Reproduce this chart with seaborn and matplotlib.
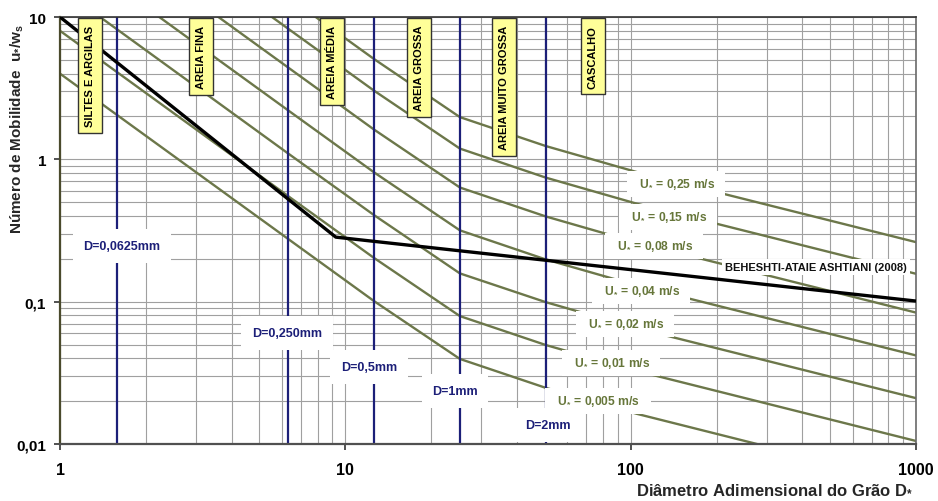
import matplotlib
matplotlib.use("Agg")
import matplotlib.pyplot as plt
import seaborn as sns
import pandas as pd
import numpy as np
from matplotlib.ticker import LogLocator, NullFormatter
from matplotlib import font_manager

# ---------------- data ----------------
dstar_pts = [1, 6.3, 12.6, 25.2, 50.4, 105, 1000]
u_star = [0.25, 0.15, 0.08, 0.04, 0.02, 0.01, 0.005]
u_labels = ["0,25", "0,15", "0,08", "0,04", "0,02", "0,01", "0,005"]
mob_025 = [200, 13.8, 5.07, 1.98, 1.24, 0.814, 0.262]
mob_015 = [120, 8.28, 3.04, 1.19, 0.744, 0.488, 0.157]
mob_008 = [64, 4.42, 1.62, 0.634, 0.397, 0.260, 0.0838]
mob_004 = [32, 2.21, 0.811, 0.317, 0.198, 0.130, 0.0419]
mob_002 = [16, 1.10, 0.406, 0.158, 0.0992, 0.0651, 0.0210]
mob_001 = [8, 0.552, 0.203, 0.0792, 0.0496, 0.0326, 0.0105]
mob_0005 = [4, 0.276, 0.101, 0.0396, 0.0248, 0.0163, 0.00524]
mob_series = [mob_025, mob_015, mob_008, mob_004, mob_002, mob_001, mob_0005]

beh_dstar = [1, 9.26, 1000]
beh_mob = [10, 0.284, 0.101]

grain_d_mm = ["0,0625", "0,250", "0,5", "1", "2"]
grain_dstar = [1.58, 6.3, 12.6, 25.2, 50.4]

classes = ["SILTES E ARGILAS", "AREIA FINA", "AREIA MÉDIA", "AREIA GROSSA",
           "AREIA MUITO GROSSA", "CASCALHO"]

x_ticks = [1, 10, 100, 1000]
x_tick_labels = ["1", "10", "100", "1000"]
y_ticks = [0.01, 0.1, 1, 10]
y_tick_labels = ["0,01", "0,1", "1", "10"]

# ---------------- style ----------------
sns.set_theme(style="white")
plt.rcParams["font.family"] = ["Liberation Sans", "DejaVu Sans"]
plt.rcParams["mathtext.fontset"] = "custom"
plt.rcParams["mathtext.rm"] = "Liberation Sans:bold"
plt.rcParams["mathtext.it"] = "Liberation Sans:bold"
plt.rcParams["mathtext.bf"] = "Liberation Sans:bold"
plt.rcParams["mathtext.default"] = "rm"

installed = {f.name for f in font_manager.fontManager.ttflist}
if "Liberation Sans Narrow" in installed:
    class_font = dict(family=["Liberation Sans Narrow"], fontsize=9.5)
else:
    class_font = dict(family=["Liberation Sans"], fontsize=8)

GREEN = "#6c774a"
GREEN_TXT = "#66763a"
NAVY = "#1c1f78"

W, H = 938, 502
fig = plt.figure(figsize=(W / 100, H / 100), dpi=100)
ax = fig.add_axes([60 / W, (H - 445) / H, 856 / W, 427 / H])

def px(xp, yp):
    """pixel -> axes fraction"""
    return ((xp - 60) / 856, (445 - yp) / 427)

rows = []
for u, m in zip(u_star, mob_series):
    for d, v in zip(dstar_pts, m):
        rows.append({"dstar": d, "mob": v, "u": u})
df = pd.DataFrame(rows)

ax.set_xscale("log")
ax.set_yscale("log")

sns.lineplot(data=df, x="dstar", y="mob", hue="u", units="u", estimator=None,
             palette=[GREEN] * len(u_star), legend=False, lw=1.7, sort=False,
             ax=ax, zorder=2)
sns.lineplot(x=beh_dstar, y=beh_mob, color="black", lw=2.4, estimator=None,
             sort=False, ax=ax, zorder=3)

for d in grain_dstar:
    ax.axvline(d, color=NAVY, lw=1.6, zorder=2.5)

ax.set_xlim(1, 1000)
ax.set_ylim(0.01, 10)

ax.set_xticks(x_ticks)
ax.set_xticklabels(x_tick_labels, fontweight="bold", fontsize=11.5)
ax.set_yticks(y_ticks)
ax.set_yticklabels(y_tick_labels, fontweight="bold", fontsize=11)
for axis in (ax.xaxis, ax.yaxis):
    axis.set_minor_locator(LogLocator(base=10, subs=np.arange(2, 10)))
    axis.set_minor_formatter(NullFormatter())
ax.tick_params(which="major", length=4, width=1.2, color="#333333",
               labelcolor="black", bottom=True, left=True)
ax.tick_params(axis="x", which="major", pad=9)
ax.tick_params(axis="y", which="major", pad=6)
ax.tick_params(which="minor", length=0)
ax.grid(True, which="both", color="#a0a0a0", lw=0.8)
ax.set_axisbelow(True)
ax.set_xlabel("")
ax.set_ylabel("")

for side, col, lw in [("left", "#4a4a2c", 1.6), ("bottom", "#505050", 1.6),
                      ("top", "#333333", 1.2), ("right", "#6a6a6a", 1.2)]:
    ax.spines[side].set_color(col)
    ax.spines[side].set_linewidth(lw)
    ax.spines[side].set_visible(True)

# ---------------- annotations ----------------
u_pos = [(676, 185), (668, 218), (654, 247), (641, 292), (625, 325), (611, 364), (598, 402)]
for lab, (xp, yp) in zip(u_labels, u_pos):
    ax.text(*px(xp, yp), "  U$_{*}$ = " + lab + " m/s  ", transform=ax.transAxes,
            ha="center", va="center", fontsize=8.7, fontweight="bold", color=GREEN_TXT,
            bbox=dict(boxstyle="square,pad=0.5", fc="white", ec="none"), zorder=6)

ax.text(*px(816, 268), "BEHESHTI-ATAIE ASHTIANI (2008)", transform=ax.transAxes,
        ha="center", va="center", fontsize=8, fontweight="bold", color="#111111",
        bbox=dict(boxstyle="square,pad=0.3", fc="white", ec="none"), zorder=6)

d_ypix = [247, 334, 368, 392, 426]
d_xpix = [122, 287, 369, 455, 548]
for lab, xp, yp in zip(grain_d_mm, d_xpix, d_ypix):
    ax.text(*px(xp, yp), "D=" + lab + "mm", transform=ax.transAxes,
            ha="center", va="center", fontsize=9, fontweight="bold", color=NAVY,
            bbox=dict(boxstyle="square,pad=0.85", fc="white", ec="none"), zorder=6)

class_x = [90, 201, 332, 419, 504, 593]
for lab, xp in zip(classes, class_x):
    fx, _ = px(xp, 0)
    ax.annotate(lab, xy=(fx, 1), xycoords="axes fraction", xytext=(0, -5.7),
                textcoords="offset points", rotation=90, ha="center", va="top",
                fontweight="bold", color="black", **class_font,
                bbox=dict(boxstyle="square,pad=0.6", fc="#ffff99", ec="#333333", lw=1),
                zorder=7, annotation_clip=False)

fig.text(913 / W, 1 - 490 / H, "Diâmetro Adimensional do Grão D$_{*}$",
         ha="right", va="center", fontsize=12, fontweight="bold")
fig.text(17 / W, 1 - 129 / H, "Número de Mobilidade  u$_{*}$/w$_{s}$",
         ha="center", va="center", rotation=90, fontsize=11, fontweight="bold")

fig.savefig("out.png", dpi=100, facecolor="white")
